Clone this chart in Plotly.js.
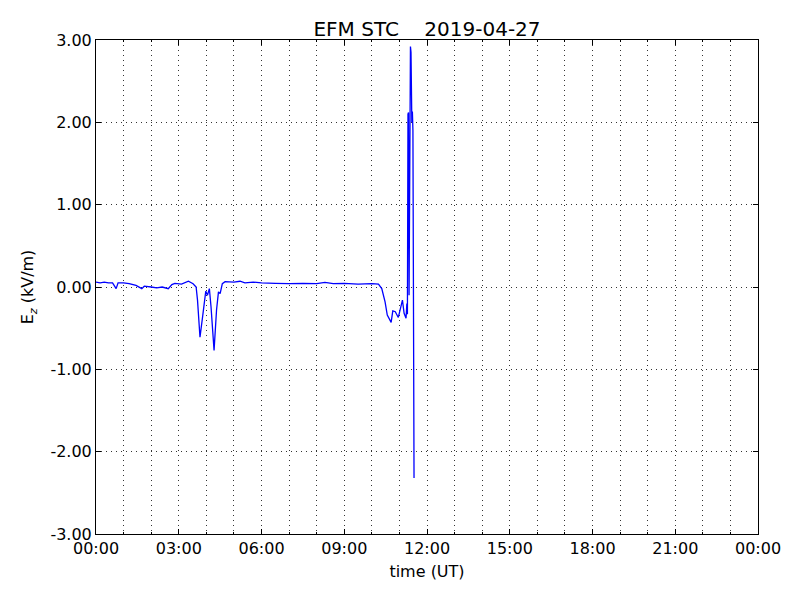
<!DOCTYPE html>
<html>
<head>
<meta charset="utf-8">
<script src="https://cdn.plot.ly/plotly-3.0.1.min.js"></script>
<style>html,body{margin:0;padding:0;background:#fff;}#chart{width:800px;height:600px;}</style>
</head>
<body>
<div id="chart"></div>
<script>
// Time of day in hours (UT), 2019-04-27
var hours = [0.00,0.15,0.30,0.45,0.60,0.73,0.80,1.00,1.20,1.45,1.66,1.75,2.00,2.20,2.40,2.62,2.75,2.86,3.10,3.35,3.52,3.63,3.68,3.77,3.88,3.98,4.04,4.11,4.17,4.28,4.37,4.44,4.50,4.58,4.68,5.00,5.22,5.40,5.70,6.00,6.50,7.00,7.50,8.00,8.30,8.60,9.00,9.50,10.00,10.24,10.36,10.48,10.56,10.63,10.70,10.76,10.85,10.96,11.05,11.11,11.17,11.24,11.27,11.29,11.31,11.33,11.35,11.38,11.40,11.42,11.44,11.45,11.47,11.49,11.53];
// Ez field in kV/m
var ez = [0.06,0.05,0.06,0.05,0.05,-0.02,0.05,0.05,0.04,0.02,-0.02,0.01,0.00,-0.01,0.00,-0.02,0.03,0.045,0.035,0.07,0.04,0.00,-0.16,-0.61,-0.32,-0.05,-0.10,-0.02,-0.24,-0.77,-0.28,-0.06,-0.08,0.04,0.065,0.06,0.07,0.05,0.06,0.05,0.045,0.04,0.045,0.04,0.055,0.04,0.045,0.035,0.04,0.035,-0.02,-0.18,-0.34,-0.38,-0.43,-0.29,-0.30,-0.37,-0.22,-0.16,-0.32,-0.38,-0.20,-0.33,2.10,2.12,-0.10,2.90,2.92,2.85,2.50,2.00,2.13,1.90,-2.32];
var day = '2019-04-27';
var xRange = ['2019-04-27 00:00:00', '2019-04-28 00:00:00'];
var yTicks = [-3, -2, -1, 0, 1, 2, 3];
var yTickText = yTicks.map(function(v){ return v.toFixed(2); });

function pad(n){ return (n < 10 ? '0' : '') + n; }
function toStamp(h){
  var s = Math.round(h * 3600);
  var hh = Math.floor(s / 3600), mm = Math.floor((s % 3600) / 60), ss = s % 60;
  return day + ' ' + pad(hh) + ':' + pad(mm) + ':' + pad(ss);
}
var xs = hours.map(toStamp);

var font = {family: 'DejaVu Sans', size: 16, color: '#000'};
var gridDash = '1px,4px';
var trace = {x: xs, y: ez, type: 'scatter', mode: 'lines', line: {color: '#0000ff', width: 1.3}, hoverinfo: 'skip'};

var layout = {
  width: 800, height: 600,
  margin: {l: 96, r: 42, t: 40, b: 66},
  paper_bgcolor: '#fff', plot_bgcolor: '#fff',
  font: font,
  showlegend: false,
  title: {text: 'EFM STC\u00a0\u00a0\u00a0\u00a02019-04-27', font: {family: 'DejaVu Sans', size: 20, color: '#000'}, x: 0.5, xref: 'paper', y: 1, yref: 'paper', yanchor: 'bottom', pad: {b: 4}},
  xaxis: {
    type: 'date', range: xRange, tickformat: '%H:%M', dtick: 3 * 3600000, tick0: xRange[0],
    showline: true, linecolor: '#000', linewidth: 1, mirror: 'ticks',
    ticks: 'inside', ticklen: 5, tickcolor: '#000',
    showgrid: true, gridcolor: '#000', gridwidth: 0.8, griddash: gridDash,
    minor: {dtick: 3600000, tick0: xRange[0], showgrid: true, gridcolor: '#000', gridwidth: 0.8, griddash: gridDash, ticks: 'inside', ticklen: 2, tickcolor: '#000'},
    zeroline: false, tickfont: font,
    title: {text: 'time (UT)', font: font, standoff: 8}
  },
  yaxis: {
    range: [-3, 3], tickmode: 'array', tickvals: yTicks, ticktext: yTickText,
    showline: true, linecolor: '#000', linewidth: 1, mirror: 'ticks',
    ticks: 'inside', ticklen: 5, tickcolor: '#000',
    showgrid: true, gridcolor: '#000', gridwidth: 0.8, griddash: gridDash,
    zeroline: false, tickfont: font,
    title: {text: 'E<sub><i>z</i></sub> (kV/m)', font: font, standoff: 12}
  }
};
Plotly.newPlot('chart', [trace], layout, {staticPlot: true});
</script>
</body>
</html>
